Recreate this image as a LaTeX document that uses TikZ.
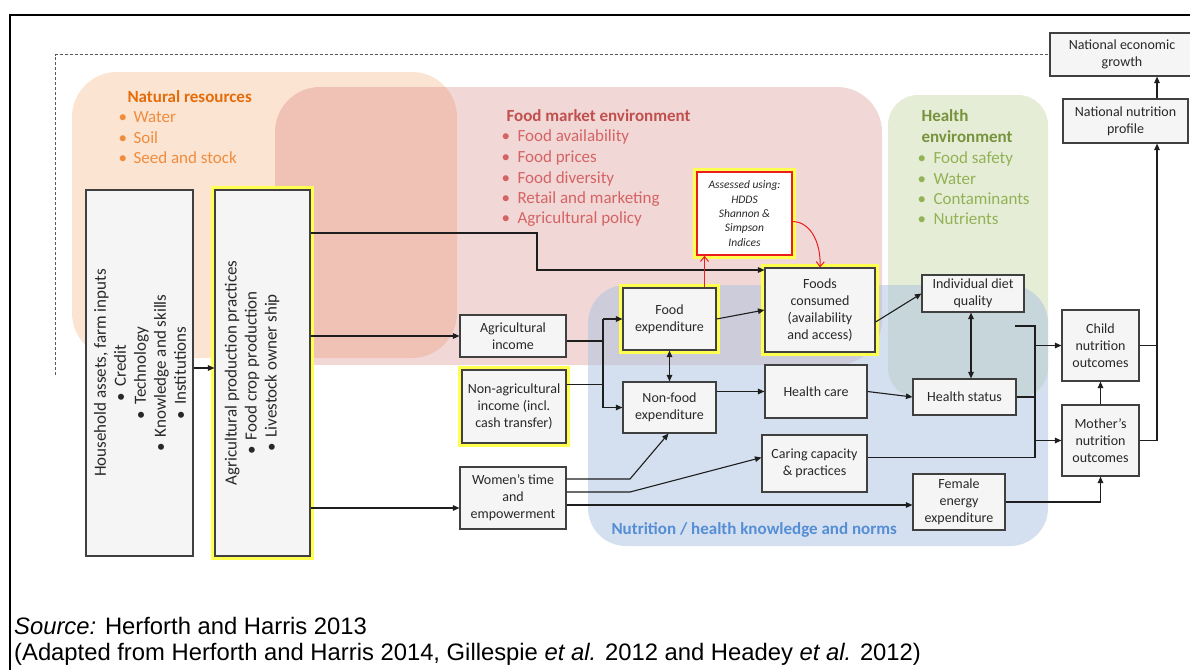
\documentclass[tikz,border=0pt]{standalone}
\usepackage{fontspec}
\setmainfont{Carlito}
\newfontfamily\capfont{Liberation Sans}
\usetikzlibrary{arrows.meta,calc}

\definecolor{boxfill}{RGB}{245,245,245}
\definecolor{boxline}{RGB}{64,64,64}
\definecolor{txt}{RGB}{40,40,40}
\definecolor{linec}{RGB}{30,30,30}
\definecolor{glow}{RGB}{255,255,80}
\definecolor{natfill}{RGB}{252,228,211}
\definecolor{mktfill}{RGB}{203,95,95}
\definecolor{hltfill}{RGB}{230,237,214}
\definecolor{nutfill}{RGB}{169,193,223}
\definecolor{nathead}{RGB}{228,108,10}
\definecolor{natitem}{RGB}{240,140,60}
\definecolor{mkthead}{RGB}{192,80,77}
\definecolor{mktitem}{RGB}{212,100,100}
\definecolor{hlthead}{RGB}{119,147,60}
\definecolor{hltitem}{RGB}{145,178,85}
\definecolor{nuthead}{RGB}{85,142,213}
\definecolor{redline}{RGB}{235,30,30}

\begin{document}
\begin{tikzpicture}[x=1pt,y=-1pt,
  box/.style={draw=boxline, fill=boxfill, line width=1.1pt, inner sep=2pt,
    align=center, text=txt, font=\fontsize{14}{17}\selectfont},
  glowbox/.style={box, preaction={draw=glow, line width=8pt}},
  conn/.style={draw=linec, line width=1.1pt},
  arr/.style={conn, -{Triangle[length=6.5pt,width=5.5pt]}},
  darr/.style={conn, {Triangle[length=6.5pt,width=5.5pt]}-{Triangle[length=6.5pt,width=5.5pt]}},
  redarr/.style={draw=redline, line width=1pt, -{Straight Barb[length=5pt,width=8pt]}},
  dashline/.style={draw=gray!70!black, line width=0.8pt, dash pattern=on 3pt off 2pt},
  head/.style={font=\bfseries\fontsize{17}{20}\selectfont, anchor=base west},
  item/.style={font=\fontsize{17}{20}\selectfont, anchor=base west},
  rottext/.style={rotate=90, align=center, text=txt, font=\fontsize{17}{20}\selectfont},
  captext/.style={anchor=base west, inner sep=0pt, font=\capfont\fontsize{23.8}{26}\selectfont},
]
\useasboundingbox (0,0) rectangle (1190,670);

% page frame
\draw[line width=1.8pt] (10,670) -- (10,15) -- (1190,15);

% shaded environments
\fill[natfill, rounded corners=45pt] (72,72) rectangle (457,358);
\fill[mktfill, fill opacity=0.25, rounded corners=45pt] (275,87) rectangle (882,365);
\fill[hltfill, rounded corners=30pt] (888,95) rectangle (1048,398);
\fill[nutfill, fill opacity=0.5, rounded corners=38pt] (588,285) rectangle (1048,546);

% environment labels
\node[head, text=nathead] (nrh) at (124,102) {Natural resources};
\node[item, text=natitem] (nr1) at (115,122) {\makebox[15pt][l]{•}Water};
\node[item, text=natitem] (nr2) at (115,143) {\makebox[15pt][l]{•}Soil};
\node[item, text=natitem] (nr3) at (115,163) {\makebox[15pt][l]{•}Seed and stock};

\node[head, text=mkthead] (fmh) at (503,121) {Food market environment};
\node[item, text=mktitem] (fm1) at (498,141) {\makebox[16pt][l]{•}Food availability};
\node[item, text=mktitem] (fm2) at (498,162) {\makebox[16pt][l]{•}Food prices};
\node[item, text=mktitem] (fm3) at (498,183) {\makebox[16pt][l]{•}Food diversity};
\node[item, text=mktitem] (fm4) at (498,203) {\makebox[16pt][l]{•}Retail and marketing};
\node[item, text=mktitem] (fm5) at (498,223) {\makebox[16pt][l]{•}Agricultural policy};

\node[head, text=hlthead] (heh1) at (918,121) {Health};
\node[head, text=hlthead] (heh2) at (918,142) {environment};
\node[item, text=hltitem] (he1) at (914,163) {\makebox[16pt][l]{•}Food safety};
\node[item, text=hltitem] (he2) at (914,184) {\makebox[16pt][l]{•}Water};
\node[item, text=hltitem] (he3) at (914,204) {\makebox[16pt][l]{•}Contaminants};
\node[item, text=hltitem] (he4) at (914,224) {\makebox[16pt][l]{•}Nutrients};

\node[head, text=nuthead] (nuth) at (608,534) {Nutrition / health knowledge and norms};

% household and production boxes with rotated text
\node[box, minimum width=107pt, minimum height=366pt] (hh) at (139.5,373) {};
\node[rottext] (hhtext) at (140,373) {Household assets, farm inputs\\
  •\hspace{6pt}Credit\\ •\hspace{6pt}Technology\\ •\hspace{6pt}Knowledge and skills\\ •\hspace{6pt}Institutions};
\node[glowbox, minimum width=95pt, minimum height=366pt] (agp) at (262.5,373) {};
\node[rottext] (agptext) at (252,373) {Agricultural production practices\\
  •\hspace{6pt}Food crop production\\ •\hspace{6pt}Livestock owner ship};

% income and time boxes
\node[box, minimum width=106pt, minimum height=42pt] (ainc) at (513,336) {Agricultural\\income};
\node[glowbox, minimum width=104pt, minimum height=73pt] (nainc) at (514,406.5) {Non-agricultural\\income (incl.\\cash transfer)};
\node[box, minimum width=106pt, minimum height=62pt] (wom) at (513,498) {Women’s time\\and\\empowerment};

% expenditure and consumption boxes
\node[glowbox, minimum width=93pt, minimum height=62pt] (fexp) at (669.5,319) {Food\\expenditure};
\node[box, minimum width=93pt, minimum height=51pt] (nfexp) at (669.5,407.5) {Non-food\\expenditure};
\node[glowbox, draw=redline, fill=white, line width=1.4pt, minimum width=95pt, minimum height=83pt,
  font=\itshape\fontsize{11.5}{14.3}\selectfont] (assess) at (744.5,213.5)
  {Assessed using:\\HDDS\\Shannon \&\\Simpson\\Indices};
\node[glowbox, minimum width=110pt, minimum height=84pt] (fcons) at (820,310) {Foods\\consumed\\(availability\\and access)};
\node[box, minimum width=102pt, minimum height=53pt] (hcare) at (816,391.5) {Health care};
\node[box, minimum width=105pt, minimum height=57pt] (caring) at (814.5,463.5) {Caring capacity\\\& practices};

% individual outcome boxes
\node[box, minimum width=102pt, minimum height=37pt] (diet) at (973,293.5) {Individual diet\\quality};
\node[box, minimum width=103pt, minimum height=36pt] (hstat) at (964.5,397) {Health status};
\node[box, minimum width=92pt, minimum height=56pt] (fee) at (959,502) {Female\\energy\\expenditure};
\node[box, minimum width=77pt, minimum height=71pt] (child) at (1100.5,345.5) {Child\\nutrition\\outcomes};
\node[box, minimum width=77pt, minimum height=71pt] (mother) at (1100.5,440.5) {Mother’s\\nutrition\\outcomes};

% national boxes
\node[box, minimum width=125pt, minimum height=44pt] (nnp) at (1125.5,121) {National nutrition\\profile};
\node[box, minimum width=144pt, minimum height=43pt] (neg) at (1122,54.5) {National economic\\growth};

% helper points for connectors
\coordinate (ds) at (55,375);
\coordinate (c1) at (537,233);
\coordinate (c2) at (537,270);
\coordinate (bx) at (603,0);
\coordinate (kx) at (630,0);
\coordinate (bus) at (1035,0);
\coordinate (rx) at (1157,0);
\coordinate (dietout) at (1015,326);
\coordinate (w1) at ([yshift=-10pt]wom.west);
\coordinate (w2) at ([yshift=19pt]wom.east);
\coordinate (w3) at ([yshift=6pt]wom.east);
\coordinate (w4) at ([yshift=-7pt]wom.east);
\coordinate (a1) at ([yshift=-5pt]ainc.east);
\coordinate (n1) at ([yshift=22pt]nainc.east);
\coordinate (r1) at ([xshift=35pt]fexp.north);
\coordinate (r2) at ([yshift=-8pt]assess.east);
\coordinate (f1) at ([yshift=-12pt]fcons.east);
\coordinate (d1) at ([xshift=-2pt]diet.south);
\coordinate (carin) at ([yshift=6pt]caring.west);
\coordinate (carout) at ([yshift=6pt]caring.east);

% dashed feedback line
\draw[dashline] (ds) |- (neg.west);

% production pathways
\draw[arr] ([yshift=5pt]hh.east) -- ([yshift=5pt]agp.west);
\draw[arr] (c1 -| agp.east) -- (c1) -- (c2) -- (c2 -| fcons.west);
\draw[arr] (ainc.west -| agp.east) -- (ainc.west);
\draw[arr] (w1 -| agp.east) -- (w1);

% income to expenditure
\draw[conn] (a1) -- (a1 -| bx);
\draw[conn] (n1) -- (n1 -| bx);
\draw[conn] (fexp.west -| bx) -- (nfexp.west -| bx);
\draw[arr] (fexp.west -| bx) -- (fexp.west);
\draw[arr] (nfexp.west -| bx) -- (nfexp.west);
\draw[darr] (fexp.south) -- (nfexp.north);

% diet assessment
\draw[redarr] (r1) -- (r1 |- assess.south);
\draw[redarr] (r2) .. controls (812,222) and (821,245) .. (fcons.north);

% consumption, care and health
\draw[arr] (fexp.east) -- (fcons.west);
\draw[arr] (f1) -- (diet.west);
\draw[darr] (d1) -- (d1 |- hstat.north);
\draw[arr] (hcare.west -| nfexp.east) -- (hcare.west);
\draw[arr] (hcare.east) -- (hstat.west);

% women's time and empowerment
\draw[arr] (w2) -- (w2 -| kx) -- ([xshift=-1pt]nfexp.south);
\draw[arr] (w3) -- (w3 -| kx) -- (carin);
\draw[arr] (w4) -- (w4 -| fee.west);

% nutrition outcomes
\draw[conn] (dietout) -- (dietout -| bus) -- (carout -| bus);
\draw[conn] (hstat.east) -- (hstat.east -| bus);
\draw[conn] (carout) -- (carout -| bus);
\draw[arr] (child.west -| bus) -- (child.west);
\draw[arr] (mother.west -| bus) -- (mother.west);
\draw[arr] (fee.east) -| (mother.south);
\draw[arr] (mother.north) -- (child.south);

% national level
\draw[conn] (child.east) -- (child.east -| rx);
\draw[arr] (mother.east) -- (mother.east -| rx) -- (nnp.south -| rx);
\draw[arr] (nnp.north -| rx) -- (neg.south -| rx);

% source note
\node[captext] (src) at (14,634) {\textit{Source:} Herforth and Harris 2013};
\node[captext] (adapt) at (14,660) {(Adapted from Herforth and Harris 2014, Gillespie \textit{et al.} 2012 and Headey \textit{et al.} 2012)};
\end{tikzpicture}
\end{document}
